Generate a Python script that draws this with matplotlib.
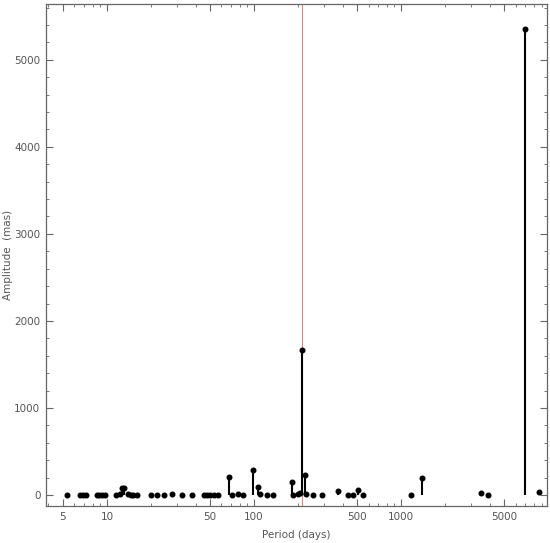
import matplotlib
matplotlib.use("Agg")
import matplotlib.pyplot as plt
from matplotlib.ticker import FixedLocator, NullFormatter, MultipleLocator

periods = [5.32, 6.55, 6.90, 7.19, 8.51, 8.87, 9.20, 9.69, 11.6, 12.25, 12.7, 13.1,
           13.8, 14.5, 15.1, 16.1, 19.8, 22.0, 24.5, 27.8, 32.2, 38.0, 45.7, 47.6,
           50.2, 53.7, 57.2, 67.9, 70.5, 78.2, 84.6, 98.9, 107, 110, 122, 135,
           180, 185, 200, 206, 212, 221, 227, 253, 291, 371, 438, 474, 505, 546,
           1164, 1383, 3484, 3863, 6900, 8590]
amplitudes = [5, 5, 5, 5, 5, 5, 5, 5, 5, 10, 80, 80,
              10, 5, 5, 5, 5, 5, 5, 10, 5, 5, 5, 5,
              5, 5, 5, 210, 5, 10, 5, 287, 88, 10, 5, 5,
              146, 5, 10, 20, 1670, 230, 10, 5, 5, 42, 5, 5, 57, 5,
              5, 191, 23, 5, 5355, 30]
red_line_period = 212

xticks = [5, 10, 50, 100, 500, 1000, 5000]
yticks = [0, 1000, 2000, 3000, 4000, 5000]

fig = plt.figure(figsize=(5.5, 5.43), dpi=100)
ax = fig.add_axes([0.0836, 0.0681, 0.9109, 0.9245])
ax.set_xscale("log")
ax.set_xlim(3.85, 9800)
ax.set_ylim(-126, 5640)

ax.axvline(red_line_period, color="#e08585", lw=0.8, zorder=1)
ax.vlines(periods, 0, amplitudes, color="black", lw=1.5, zorder=2)
ax.plot(periods, amplitudes, "o", color="black", ms=3.3, zorder=3)

ax.xaxis.set_major_locator(FixedLocator(xticks))
ax.set_xticklabels([str(t) for t in xticks])
minors = []
for dec in [1, 10, 100, 1000]:
    for m in range(1, 10):
        v = m * dec
        if v not in xticks and 3.85 <= v <= 9800:
            minors.append(v)
ax.xaxis.set_minor_locator(FixedLocator(minors))
ax.xaxis.set_minor_formatter(NullFormatter())
ax.yaxis.set_major_locator(FixedLocator(yticks))
ax.yaxis.set_minor_locator(MultipleLocator(200))

grey = "#555555"
for s in ax.spines.values():
    s.set_color("#666666")
    s.set_linewidth(0.9)
ax.tick_params(which="both", direction="in", top=True, right=True,
               colors="#666666", labelcolor=grey, labelsize=7.5)
ax.tick_params(which="major", length=5, width=0.8, pad=4)
ax.tick_params(which="minor", length=2.5, width=0.6)

ax.set_xlabel("Period (days)", color=grey, fontsize=7.5, labelpad=6)
ax.set_ylabel("Amplitude  (mas)", color=grey, fontsize=7.5, labelpad=1)

fig.savefig("out.png", dpi=100)
